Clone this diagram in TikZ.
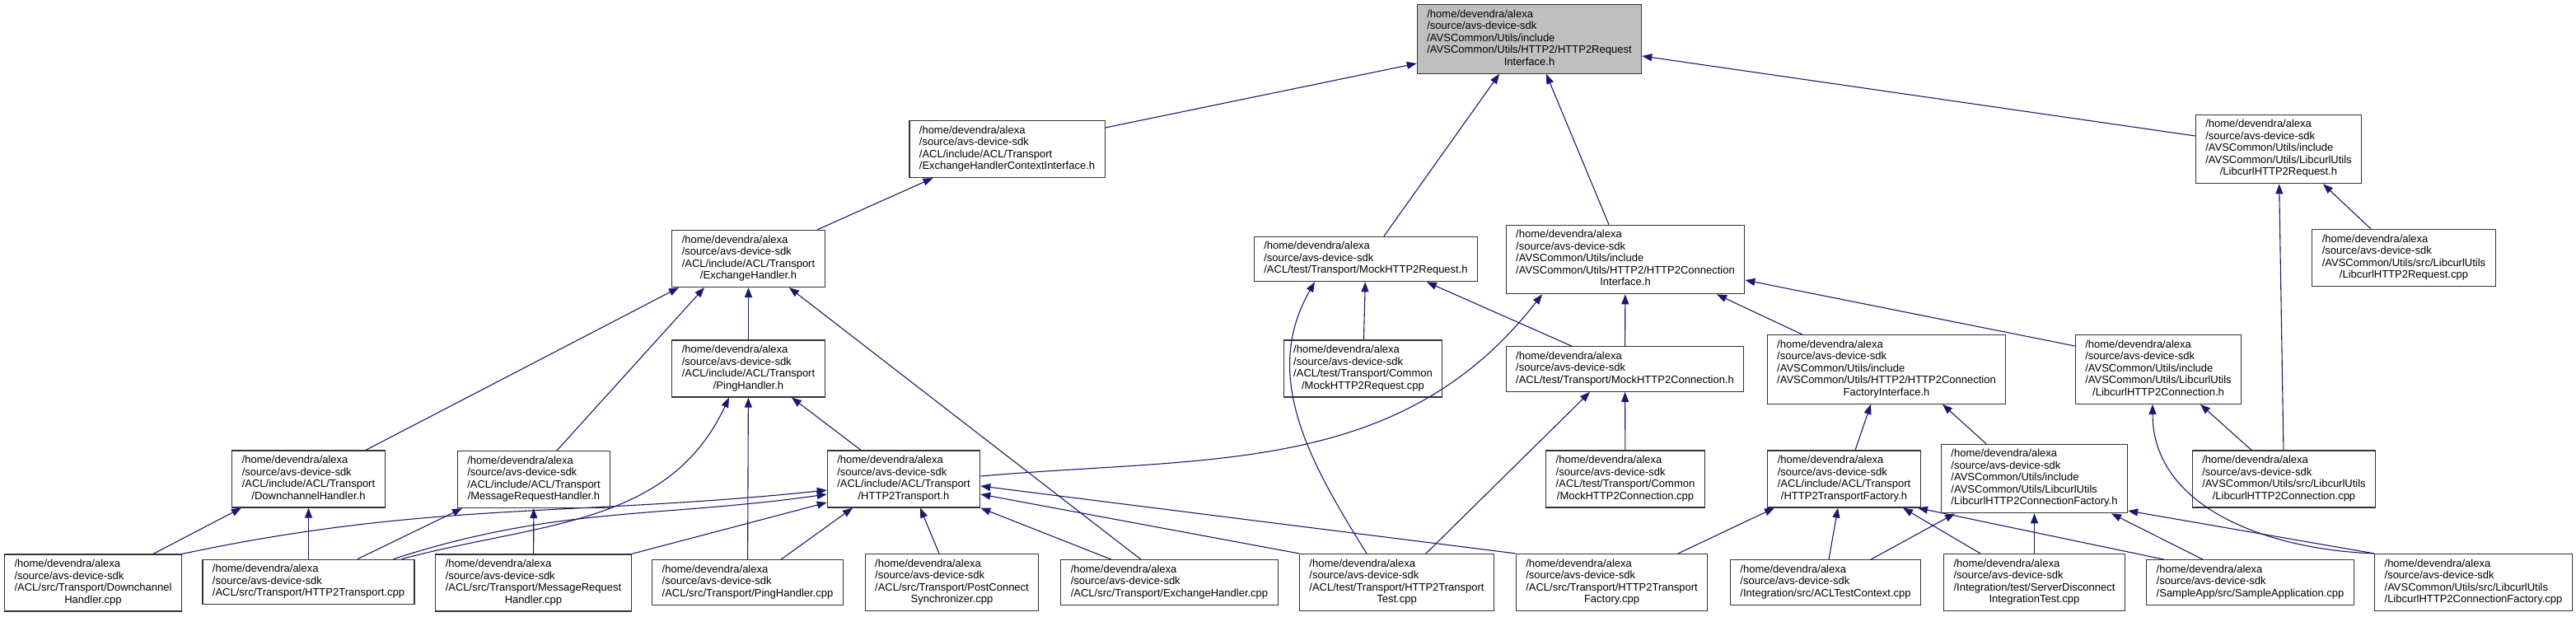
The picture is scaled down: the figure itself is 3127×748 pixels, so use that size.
\documentclass[tikz,border=0pt]{standalone}
\usepackage{fontspec}
\setmainfont{Liberation Sans}
\usetikzlibrary{arrows.meta}
\definecolor{edgeblue}{HTML}{191970}
\definecolor{rootgray}{HTML}{BFBFBF}
\newcommand{\sdkroot}{/home/devendra/alexa\\/source/avs-device-sdk}
\newcommand{\fpath}[2]{\begin{tabular}{@{}l@{}}#1\\\multicolumn{1}{@{}c@{}}{#2}\end{tabular}}

\begin{document}
\begin{tikzpicture}[x=1pt,y=1pt,
srcbox/.style={draw=black!80,line width=1.2pt,fill=white,inner xsep=12pt,inner ysep=5.5pt,font=\fontsize{13}{14.5}\selectfont},
rootbox/.style={srcbox,fill=rootgray},
dep/.style={draw=edgeblue,line width=1.1pt,-{Triangle[length=12pt,width=9pt]}}]
\useasboundingbox (0,0) rectangle (3127,-748);

\node[rootbox] (root) at (1856.5,-47.5) {\fpath{\sdkroot\\/AVSCommon/Utils/include\\/AVSCommon/Utils/HTTP2/HTTP2Request}{Interface.h}};

\node[srcbox] (exhci) at (1222.5,-181) {\fpath{\sdkroot\\/ACL/include/ACL/Transport}{/ExchangeHandlerContextInterface.h}};
\node[srcbox] (lcreqh) at (2766,-181) {\fpath{\sdkroot\\/AVSCommon/Utils/include\\/AVSCommon/Utils/LibcurlUtils}{/LibcurlHTTP2Request.h}};

\node[srcbox] (exh) at (908.5,-314) {\fpath{\sdkroot\\/ACL/include/ACL/Transport}{/ExchangeHandler.h}};
\node[srcbox] (mockreqh) at (1658,-314.5) {\fpath{\sdkroot}{/ACL/test/Transport/MockHTTP2Request.h}};
\node[srcbox] (conniface) at (1973,-315) {\fpath{\sdkroot\\/AVSCommon/Utils/include\\/AVSCommon/Utils/HTTP2/HTTP2Connection}{Interface.h}};
\node[srcbox] (lcreqcpp) at (2918,-313) {\fpath{\sdkroot\\/AVSCommon/Utils/src/LibcurlUtils}{/LibcurlHTTP2Request.cpp}};

\node[srcbox] (pingh) at (908.5,-447.5) {\fpath{\sdkroot\\/ACL/include/ACL/Transport}{/PingHandler.h}};
\node[srcbox] (mockreqcpp) at (1654.5,-447.5) {\fpath{\sdkroot\\/ACL/test/Transport/Common}{/MockHTTP2Request.cpp}};
\node[srcbox] (mockconnh) at (1972.5,-448) {\fpath{\sdkroot}{/ACL/test/Transport/MockHTTP2Connection.h}};
\node[srcbox] (connfactiface) at (2290,-448.5) {\fpath{\sdkroot\\/AVSCommon/Utils/include\\/AVSCommon/Utils/HTTP2/HTTP2Connection}{FactoryInterface.h}};
\node[srcbox] (lcconnh) at (2620,-448.5) {\fpath{\sdkroot\\/AVSCommon/Utils/include\\/AVSCommon/Utils/LibcurlUtils}{/LibcurlHTTP2Connection.h}};

\node[srcbox] (dchh) at (374.5,-581.5) {\fpath{\sdkroot\\/ACL/include/ACL/Transport}{/DownchannelHandler.h}};
\node[srcbox] (mrhh) at (648,-582) {\fpath{\sdkroot\\/ACL/include/ACL/Transport}{/MessageRequestHandler.h}};
\node[srcbox] (transh) at (1097,-581.5) {\fpath{\sdkroot\\/ACL/include/ACL/Transport}{/HTTP2Transport.h}};
\node[srcbox] (mockconncpp) at (1973,-581.5) {\fpath{\sdkroot\\/ACL/test/Transport/Common}{/MockHTTP2Connection.cpp}};
\node[srcbox] (transfacth) at (2238.5,-581.5) {\fpath{\sdkroot\\/ACL/include/ACL/Transport}{/HTTP2TransportFactory.h}};
\node[srcbox] (lcfacth) at (2469.5,-581) {\fpath{\sdkroot\\/AVSCommon/Utils/include\\/AVSCommon/Utils/LibcurlUtils}{/LibcurlHTTP2ConnectionFactory.h}};
\node[srcbox] (lcconncpp) at (2772.5,-581.5) {\fpath{\sdkroot\\/AVSCommon/Utils/src/LibcurlUtils}{/LibcurlHTTP2Connection.cpp}};

\node[srcbox] (dchcpp) at (113,-707.5) {\fpath{\sdkroot\\/ACL/src/Transport/Downchannel}{Handler.cpp}};
\node[srcbox] (transcpp) at (374.5,-706.5) {\fpath{\sdkroot}{/ACL/src/Transport/HTTP2Transport.cpp}};
\node[srcbox] (mrhcpp) at (647.5,-707.5) {\fpath{\sdkroot\\/ACL/src/Transport/MessageRequest}{Handler.cpp}};
\node[srcbox] (pingcpp) at (907.5,-707) {\fpath{\sdkroot}{/ACL/src/Transport/PingHandler.cpp}};
\node[srcbox] (pcscpp) at (1155.5,-707) {\fpath{\sdkroot\\/ACL/src/Transport/PostConnect}{Synchronizer.cpp}};
\node[srcbox] (exhcpp) at (1419.5,-707) {\fpath{\sdkroot}{/ACL/src/Transport/ExchangeHandler.cpp}};
\node[srcbox] (transtest) at (1695.5,-707) {\fpath{\sdkroot\\/ACL/test/Transport/HTTP2Transport}{Test.cpp}};
\node[srcbox] (transfactcpp) at (1956.5,-707) {\fpath{\sdkroot\\/ACL/src/Transport/HTTP2Transport}{Factory.cpp}};
\node[srcbox] (acltest) at (2216,-707) {\fpath{\sdkroot}{/Integration/src/ACLTestContext.cpp}};
\node[srcbox] (sditest) at (2469.5,-707) {\fpath{\sdkroot\\/Integration/test/ServerDisconnect}{IntegrationTest.cpp}};
\node[srcbox] (sampleapp) at (2731.5,-707) {\fpath{\sdkroot}{/SampleApp/src/SampleApplication.cpp}};
\node[srcbox] (lcfactcpp) at (3002.5,-707) {\fpath{\sdkroot\\/AVSCommon/Utils/src/LibcurlUtils}{/LibcurlHTTP2ConnectionFactory.cpp}};

% includers of the request interface
\draw[dep] ([yshift=26pt]exhci.east) -- ([yshift=-29.5pt]root.west);
\draw[dep] ([xshift=22pt]mockreqh.north) -- ([xshift=-36.5pt]root.south);
\draw[dep] ([xshift=-20pt]conniface.north) -- ([xshift=20.5pt]root.south);
\draw[dep] ([yshift=16pt]lcreqh.west) -- ([yshift=-20.5pt]root.east);

\draw[dep] ([xshift=83.5pt]exh.north) -- ([xshift=-90pt]exhci.south);
\draw[dep] ([xshift=69.5pt]dchh.north) -- ([xshift=-84.5pt]exh.south);
\draw[dep] ([xshift=28pt]mrhh.north) -- ([xshift=-53.5pt]exh.south);
\draw[dep] (pingh) -- (exh);
\draw[dep] ([xshift=-34.5pt]exhcpp.north) -- ([xshift=49.5pt]exh.south);

\draw[dep] ([xshift=-52pt]transh.north) -- ([xshift=52.5pt]pingh.south);
\draw[dep] ([xshift=113pt]transcpp.north) to[out=15,in=245] ([xshift=-23.5pt]pingh.south);
\draw[dep] (pingcpp) -- (pingh);

\draw[dep] ([xshift=73pt]dchcpp.north) -- ([xshift=-81.5pt]dchh.south);
\draw[dep] (transcpp) -- (dchh);
\draw[dep] ([xshift=59.5pt]transcpp.north) -- ([xshift=-87pt]mrhh.south);
\draw[dep] (mrhcpp) -- (mrhh);

% HTTP2Transport.h
\draw[dep] (dchcpp.north east) to[out=12,in=186] ([yshift=-13.5pt]transh.west);
\draw[dep] ([xshift=103pt]transcpp.north) to[out=18,in=188] ([yshift=-18.5pt]transh.west);
\draw[dep] (mrhcpp.north east) -- ([yshift=-28.5pt]transh.west);
\draw[dep] ([xshift=40.5pt]pingcpp.north) -- ([xshift=-62pt]transh.south);
\draw[dep] ([xshift=-15.5pt]pcscpp.north) -- ([xshift=20pt]transh.south);
\draw[dep] ([xshift=-70.5pt]exhcpp.north) -- (transh.south east);
\draw[dep] (transtest.north west) -- ([yshift=-18.5pt]transh.east);
\draw[dep] (transfactcpp.north west) -- ([yshift=-8.5pt]transh.east);

% HTTP2ConnectionInterface.h
\draw[dep] ([yshift=3.5pt]transh.east) to[out=5,in=232] ([xshift=-101pt]conniface.south);
\draw[dep] (mockconnh) -- (conniface);
\draw[dep] ([xshift=-102pt]connfactiface.north) -- ([xshift=111pt]conniface.south);
\draw[dep] ([yshift=28.5pt]lcconnh.west) -- ([yshift=-25pt]conniface.east);

\draw[dep] (mockreqcpp) -- (mockreqh);
\draw[dep] ([xshift=-36.5pt]transtest.north) to[out=122,in=240] ([xshift=-62pt]mockreqh.south);
\draw[dep] ([xshift=-64.5pt]mockconnh.north) -- ([xshift=74pt]mockreqh.south);

\draw[dep] (mockconncpp) -- (mockconnh);
\draw[dep] ([xshift=35.5pt]transtest.north) -- ([xshift=-42.5pt]mockconnh.south);

\draw[dep] ([xshift=13.5pt]transfacth.north) -- ([xshift=-19pt]connfactiface.south);
\draw[dep] ([xshift=-58.5pt]lcfacth.north) -- ([xshift=68pt]connfactiface.south);

% factories
\draw[dep] ([xshift=80.5pt]transfactcpp.north) -- ([xshift=-84.5pt]transfacth.south);
\draw[dep] ([xshift=4pt]acltest.north) -- ([xshift=-7.5pt]transfacth.south);
\draw[dep] ([xshift=-65.5pt]sditest.north) -- ([xshift=71.5pt]transfacth.south);
\draw[dep] ([xshift=-104.5pt]sampleapp.north) -- ([xshift=89.5pt]transfacth.south);

\draw[dep] ([xshift=55pt]acltest.north) -- ([xshift=-96.5pt]lcfacth.south);
\draw[dep] (sditest) -- (lcfacth);
\draw[dep] ([xshift=-57.5pt]sampleapp.north) -- ([xshift=93.5pt]lcfacth.south);
\draw[dep] (lcfactcpp.north west) -- ([yshift=-39pt]lcfacth.east);

% libcurl
\draw[dep] (lcfactcpp.north west) to[out=178,in=270] ([xshift=-7pt]lcconnh.south);
\draw[dep] ([xshift=-39.5pt]lcconncpp.north) -- ([xshift=51pt]lcconnh.south);
\draw[dep] (lcconncpp) -- (lcreqh);
\draw[dep] ([xshift=-40pt]lcreqcpp.north) -- ([xshift=54pt]lcreqh.south);
\end{tikzpicture}
\end{document}
